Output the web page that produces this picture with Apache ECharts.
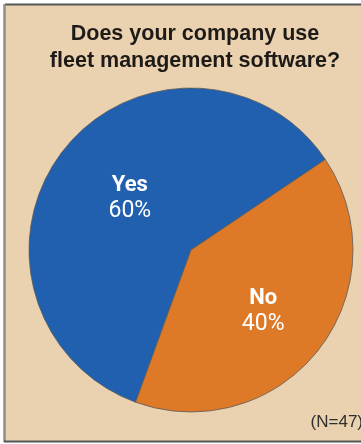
<!DOCTYPE html>
<html>
<head>
<meta charset="utf-8">
<script src="https://cdn.jsdelivr.net/npm/echarts@6/dist/echarts.min.js"></script>
<style>
  html, body { margin: 0; padding: 0; background: #ffffff; }
  #chart { width: 361px; height: 444px; }
</style>
</head>
<body>
<div id="chart"></div>
<script>
// Survey answers and their shares
const categories = ['Yes', 'No'];
const shares = [60, 40];
const sliceColors = ['#2160ae', '#de7a27'];
const titleLines = ['Does your company use', 'fleet management software?'];
const sampleNote = '(N=47)';

// small nudges so each label block sits a bit off the slice midpoint
const labelPadding = [[0, 0, 0, 10], [20, 0, 0, 12]];

const chart = echarts.init(document.getElementById('chart'), null, { renderer: 'canvas' });

chart.setOption({
  backgroundColor: '#ffffff',
  animation: false,
  title: {
    text: titleLines.join('\n'),
    left: 190,
    textAlign: 'center',
    top: 16,
    textStyle: {
      fontFamily: 'Liberation Sans',
      fontWeight: 'bold',
      fontSize: 21.5,
      lineHeight: 27,
      color: '#1e1a17'
    }
  },
  graphic: [
    {
      type: 'rect',
      z: -10,
      shape: { x: 5, y: 4, width: 360, height: 437 },
      style: { fill: '#ead2b0', stroke: null }
    },
    {
      type: 'line',
      z: -5,
      shape: { x1: 5, y1: 4.5, x2: 361, y2: 4.5 },
      style: { stroke: '#555555', lineWidth: 2 }
    },
    {
      type: 'line',
      z: -5,
      shape: { x1: 4.5, y1: 4, x2: 4.5, y2: 442 },
      style: { stroke: '#8e8e8e', lineWidth: 2.5 }
    },
    {
      type: 'line',
      z: -5,
      shape: { x1: 4, y1: 441.5, x2: 361, y2: 441.5 },
      style: { stroke: '#555555', lineWidth: 2 }
    },
    {
      type: 'text',
      right: -2,
      top: 414,
      style: {
        text: sampleNote,
        fontFamily: 'Liberation Sans',
        fontSize: 17,
        fill: '#2e2e2e'
      }
    }
  ],
  series: [
    {
      type: 'pie',
      center: [191, 250],
      radius: [0, 162],
      startAngle: 250,
      clockwise: true,
      silent: true,
      itemStyle: { borderColor: '#5a5a5a', borderWidth: 0.8 },
      label: {
        show: true,
        position: 'inside',
        formatter: '{n|{b}}\n{p|{c}%}',
        rich: {
          n: { fontFamily: 'Roboto', fontWeight: 'bold', fontSize: 22, lineHeight: 26, color: '#ffffff' },
          p: { fontFamily: 'Roboto', fontWeight: 'normal', fontSize: 23, lineHeight: 26, color: '#ffffff' }
        }
      },
      labelLine: { show: false },
      data: categories.map((name, i) => ({
        name: name,
        value: shares[i],
        itemStyle: { color: sliceColors[i] },
        label: { padding: labelPadding[i] }
      }))
    }
  ]
});
</script>
</body>
</html>
